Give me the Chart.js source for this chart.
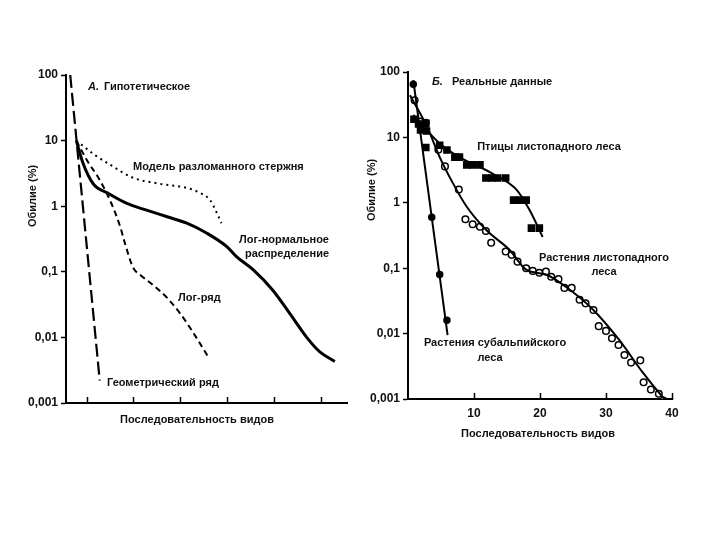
<!DOCTYPE html>
<html>
<head>
<meta charset="utf-8">
<script src="https://cdn.jsdelivr.net/npm/chart.js@4.4.0/dist/chart.umd.min.js"></script>
<style>
body { margin: 0; background: #fff; }
#wrap { position: relative; width: 720px; height: 540px; }
canvas { position: absolute; top: 0; }
</style>
</head>
<body>
<div id="wrap">
  <canvas id="chartA" width="360" height="540" style="left:0"></canvas>
  <canvas id="chartB" width="360" height="540" style="left:360px"></canvas>
</div>
<script>
// shared y axis (log)
const yTicks = [100, 10, 1, 0.1, 0.01, 0.001];
const yTickLabels = ['100', '10', '1', '0,1', '0,01', '0,001'];

// panel A: hypothetical curves (rank, abundance %)
const rankTicksA = [2.25, 7.25, 12.25, 17.25, 22.25, 27.25];
const geomRank = [0.45, 3.6];
const geomAbund = [100, 0.0022];
const brokenRank = [1.1, 3.1, 4.7, 7.2, 10.0, 12.9, 14.3, 15.4, 16.1, 16.6];
const brokenAbund = [10, 6.0, 4.3, 2.7, 2.2, 1.9, 1.6, 1.23, 0.79, 0.55];
const logSeriesRank = [1.1, 2.35, 3.4, 4.7, 5.8, 6.3, 7.15, 8.0, 9.0, 10.8, 12.2, 13.6, 15.2];
const logSeriesAbund = [10, 4.7, 2.8, 1.23, 0.48, 0.27, 0.117, 0.088, 0.068, 0.040, 0.023, 0.0117, 0.005];
const lognormRank = [1.1, 1.8, 2.9, 4.4, 6.5, 8.6, 10.8, 12.9, 15.0, 17.2, 18.2, 20.0, 22.1, 23.9, 25.7, 27.1, 28.7];
const lognormAbund = [10, 4.6, 2.2, 1.6, 1.1, 0.87, 0.69, 0.55, 0.39, 0.24, 0.17, 0.107, 0.052, 0.023, 0.010, 0.006, 0.0043];

// panel B: real data
const rankTicksB = [10, 20, 30, 40];
const subalpRank = [0.8, 3.6, 4.8, 5.9];
const subalpAbund = [65, 0.6, 0.08, 0.016];
const subalpFitRank = [0.8, 6.0];
const subalpFitAbund = [75, 0.0095];

const birdRank = [0.9, 1.6, 1.9, 2.7, 2.8, 2.7, 4.8, 5.9, 7.1, 7.8, 8.9, 9.8, 10.9, 11.8, 12.7, 13.6, 14.8, 16.0, 16.9, 17.9, 18.7, 19.9];
const birdAbund = [19, 16, 13, 16.5, 12.5, 7, 7.6, 6.4, 5, 5, 3.8, 3.8, 3.8, 2.4, 2.4, 2.4, 2.4, 1.1, 1.1, 1.1, 0.41, 0.41];
const birdFitRank = [0.8, 4.8, 7.8, 12.8, 16.4, 18.4, 20.4];
const birdFitAbund = [22, 8.1, 5, 2.8, 1.6, 0.78, 0.3];

const decidRank = [1.0, 1.8, 2.7, 4.6, 5.6, 7.7, 8.7, 9.8, 10.9, 11.8, 12.6, 14.8, 15.7, 16.6, 17.9, 18.9, 19.9, 20.9, 21.7, 22.8, 23.7, 24.8, 26.0, 26.9, 28.1, 28.9, 30.0, 30.9, 31.9, 32.8, 33.8, 35.2, 35.7, 36.8, 38.0, 38.7];
const decidAbund = [37, 17.5, 16.7, 6.5, 3.6, 1.6, 0.56, 0.47, 0.43, 0.37, 0.245, 0.18, 0.16, 0.126, 0.10, 0.091, 0.085, 0.089, 0.074, 0.068, 0.050, 0.050, 0.033, 0.029, 0.023, 0.013, 0.011, 0.0085, 0.0067, 0.0047, 0.0036, 0.0039, 0.0018, 0.0014, 0.0012, 0.00095];
const decidFitRank = [0.3, 2.9, 4.8, 6.8, 8.9, 11.9, 15.4, 17.9, 20.9, 23.9, 27.9, 32, 35.5, 38.5, 39.3];
const decidFitAbund = [44, 14.5, 5, 2, 0.87, 0.38, 0.19, 0.095, 0.08, 0.052, 0.024, 0.008, 0.0026, 0.0011, 0.0009];

const FONT = '"Liberation Sans", Arial, sans-serif';

function pts(xs, ys) {
  return xs.map((x, i) => ({ x: x, y: ys[i] }));
}

function lineSet(xs, ys, width, dash) {
  return {
    data: pts(xs, ys), showLine: true, borderColor: '#000', borderWidth: width,
    borderDash: dash || [], pointRadius: 0, cubicInterpolationMode: 'monotone', fill: false
  };
}

function markSet(xs, ys, style, radius, fillColor) {
  return {
    data: pts(xs, ys), showLine: false, pointStyle: style, pointRadius: radius,
    pointBackgroundColor: fillColor, pointBorderColor: '#000', pointBorderWidth: 1.5
  };
}

// draws the free texts of a panel
const textPlugin = {
  id: 'texts',
  afterDraw(chart, args, opts) {
    const ctx = chart.ctx;
    ctx.save();
    ctx.fillStyle = '#111';
    ctx.textBaseline = 'middle';
    opts.items.forEach(t => {
      ctx.save();
      ctx.font = (t.italic ? 'italic ' : '') + 'bold ' + (t.size || 11) + 'px ' + FONT;
      ctx.textAlign = t.align || 'left';
      ctx.translate(t.x, t.y);
      if (t.rotate) ctx.rotate(t.rotate);
      ctx.fillText(t.text, 0, 0);
      ctx.restore();
    });
    ctx.restore();
  }
};

function makeChart(id, datasets, xOpts, box, texts) {
  return new Chart(document.getElementById(id), {
    type: 'scatter',
    data: { datasets: datasets },
    plugins: [textPlugin],
    options: {
      responsive: false,
      animation: false,
      layout: { padding: { top: box.top, right: box.right, left: 0, bottom: 0 } },
      plugins: { legend: { display: false }, tooltip: { enabled: false }, texts: { items: texts } },
      scales: {
        x: {
          type: 'linear', min: 0, max: xOpts.max,
          afterBuildTicks: s => { s.ticks = xOpts.ticks.map(v => ({ value: v })); },
          afterFit: s => { s.height = box.xh; },
          border: { display: true, color: '#000', width: 2 },
          grid: { drawOnChartArea: false, drawTicks: true, tickLength: -6, tickColor: '#000', tickWidth: 1.5 },
          ticks: {
            display: xOpts.labels, padding: 13, color: '#111', maxRotation: 0,
            font: { family: FONT, size: 12, weight: 'bold' },
            callback: v => String(v)
          }
        },
        y: {
          type: 'logarithmic', min: 0.001, max: 100,
          afterBuildTicks: s => { s.ticks = yTicks.map(v => ({ value: v })); },
          afterFit: s => { s.width = box.yw; },
          border: { display: true, color: '#000', width: 2 },
          grid: { drawOnChartArea: false, drawTicks: true, tickLength: 5, tickColor: '#000', tickWidth: 1.5 },
          ticks: {
            padding: 3, color: '#111',
            font: { family: FONT, size: 12, weight: 'bold' },
            callback: v => yTickLabels[yTicks.indexOf(v)]
          }
        }
      }
    }
  });
}

const chartA = makeChart('chartA', [
  lineSet(geomRank, geomAbund, 2.2, [13, 5]),
  lineSet(brokenRank, brokenAbund, 2, [2, 4]),
  lineSet(logSeriesRank, logSeriesAbund, 2, [6, 4]),
  lineSet(lognormRank, lognormAbund, 3)
], { max: 30, ticks: rankTicksA, labels: false },
{ top: 75, right: 13, yw: 66, xh: 137 },
[
  { text: 'А.', x: 88, y: 87, italic: true },
  { text: 'Гипотетическое', x: 104, y: 87 },
  { text: 'Модель разломанного стержня', x: 133, y: 167 },
  { text: 'Лог-нормальное', x: 284, y: 240, align: 'center' },
  { text: 'распределение', x: 287, y: 254, align: 'center' },
  { text: 'Лог-ряд', x: 178, y: 298 },
  { text: 'Геометрический ряд', x: 107, y: 383 },
  { text: 'Обилие (%)', x: 33, y: 196, align: 'center', rotate: -Math.PI / 2 },
  { text: 'Последовательность видов', x: 197, y: 420, align: 'center' }
]);

const chartB = makeChart('chartB', [
  lineSet(subalpFitRank, subalpFitAbund, 2),
  lineSet(birdFitRank, birdFitAbund, 2),
  lineSet(decidFitRank, decidFitAbund, 2),
  markSet(subalpRank, subalpAbund, 'circle', 3, '#000'),
  markSet(birdRank, birdAbund, 'rect', 4.3, '#000'),
  markSet(decidRank, decidAbund, 'circle', 3.3, '#fff')
], { max: 40, ticks: rankTicksB, labels: true },
{ top: 72, right: 48, yw: 48, xh: 141 },
[
  { text: 'Б.', x: 72, y: 82, italic: true },
  { text: 'Реальные данные', x: 92, y: 82 },
  { text: 'Птицы листопадного леса', x: 189, y: 147, align: 'center' },
  { text: 'Растения листопадного', x: 244, y: 258, align: 'center' },
  { text: 'леса', x: 244, y: 272, align: 'center' },
  { text: 'Растения субальпийского', x: 135, y: 343, align: 'center' },
  { text: 'леса', x: 130, y: 358, align: 'center' },
  { text: 'Обилие (%)', x: 12, y: 190, align: 'center', rotate: -Math.PI / 2 },
  { text: 'Последовательность видов', x: 178, y: 434, align: 'center' }
]);
</script>
</body>
</html>
